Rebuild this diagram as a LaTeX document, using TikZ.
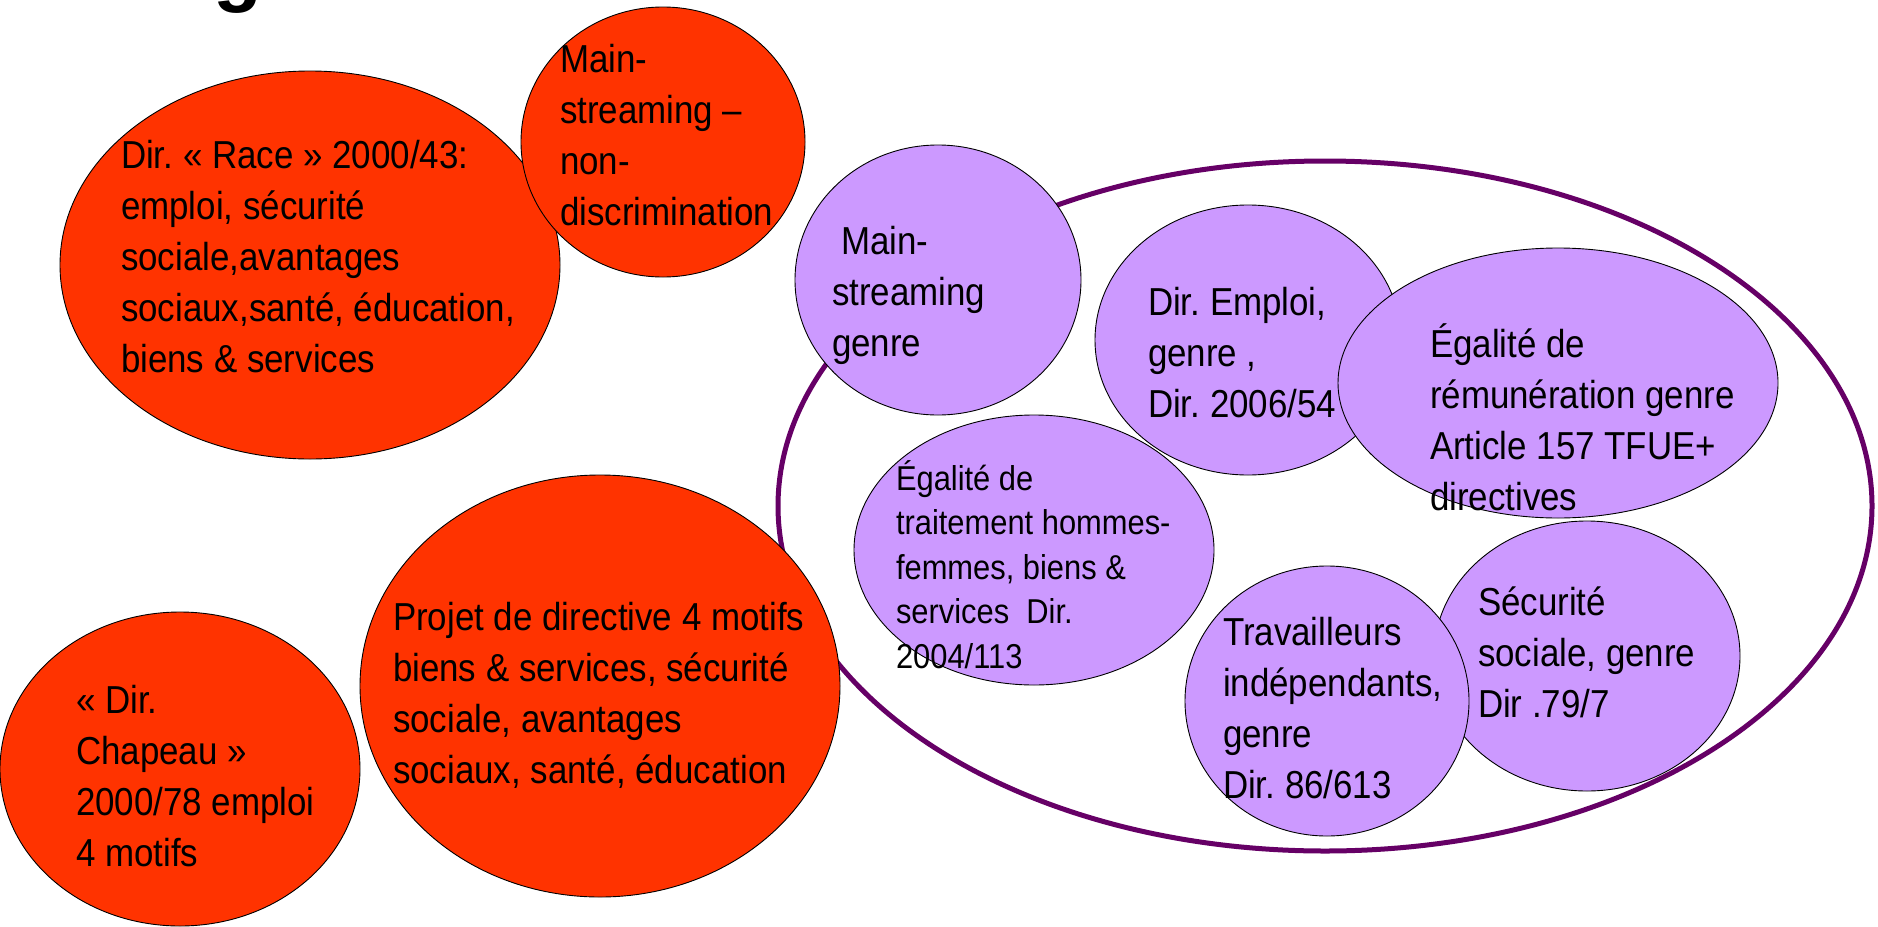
\documentclass[tikz,border=0pt]{standalone}
\usepackage{fontspec}
\setmainfont[FakeStretch=0.895]{Liberation Sans}
\newfontfamily\titlefont{Liberation Sans}
\usetikzlibrary{shapes.geometric}
\definecolor{myred}{HTML}{FF3300}
\definecolor{mylilac}{HTML}{CC99FF}
\definecolor{myplum}{HTML}{660066}
\frenchspacing
\newcommand\mylines[1]{\vtop{\let\\\cr\halign{##\hfil\cr#1\crcr}}}
\tikzset{
  blob/.style={ellipse, draw=black, line width=0.9pt, inner sep=0pt, outer sep=0pt},
  redblob/.style={blob, fill=myred},
  lilacblob/.style={blob, fill=mylilac},
  ring/.style={ellipse, draw=myplum, line width=5pt, inner sep=0pt},
  txt/.style={anchor=base west, inner sep=0pt, outer sep=0pt, text=black, font=\frenchspacing\fontsize{39}{51}\selectfont},
  smalltxt/.style={txt, font=\frenchspacing\fontsize{34.5}{44.5}\selectfont}
}
\begin{document}
\begin{tikzpicture}[x=1pt, y=-1pt]
\useasboundingbox (0,0) rectangle (1878,926);
% title fragment
\node[anchor=base west, inner sep=0pt, font=\titlefont\bfseries\fontsize{80}{90}\selectfont] (title) at (213,-3) {g};
% red ellipses
\node[redblob, minimum width=500pt, minimum height=388pt] (race) at (310,265) {};
\node[redblob, minimum width=284pt, minimum height=270pt] (nondisc) at (663,142) {};
% big ring
\node[ring, minimum width=1094pt, minimum height=690pt] (ring) at (1325,506) {};
% lilac ellipses
\node[lilacblob, minimum width=286pt, minimum height=270pt] (maingenre) at (938,280) {};
\node[lilacblob, minimum width=306pt, minimum height=270pt] (emploi) at (1248,340) {};
\node[lilacblob, minimum width=440pt, minimum height=270pt] (remun) at (1558,383) {};
\node[lilacblob, minimum width=360pt, minimum height=270pt] (traite) at (1034,550) {};
\node[lilacblob, minimum width=306pt, minimum height=270pt] (secu) at (1587,656) {};
\node[lilacblob, minimum width=284pt, minimum height=270pt] (trav) at (1327,701) {};
% lower red ellipses
\node[redblob, minimum width=360pt, minimum height=314pt] (chapeau) at (180,769) {};
\node[redblob, minimum width=480pt, minimum height=422pt] (projet) at (600,686) {};
% texts
\node[txt] (trace) at (121,168) {\mylines{Dir. « Race » 2000/43:\\emploi, sécurité\\sociale,avantages\\sociaux,santé, éducation,\\biens \& services}};
\node[txt] (tnondisc) at (560,72) {\mylines{Main-\\streaming –\\non-\\discrimination}};
\node[txt] (tmaingenre) at (832,254) {\mylines{\hspace*{9pt}Main-\\streaming\\genre}};
\node[txt] (temploi) at (1148,315) {\mylines{Dir. Emploi,\\genre ,\\Dir. 2006/54}};
\node[txt] (tremun) at (1430,357) {\mylines{Égalité de\\rémunération genre\\Article 157 TFUE+\\directives}};
\node[smalltxt] (ttraite) at (896,490) {\mylines{Égalité de\\traitement hommes-\\femmes, biens \&\\services\ \ Dir.\\2004/113}};
\node[txt] (ttrav) at (1223,645) {\mylines{Travailleurs\\indépendants,\\genre\\Dir. 86/613}};
\node[txt] (tsecu) at (1478,615) {\mylines{Sécurité\\sociale, genre\\Dir .79/7}};
\node[txt] (tchapeau) at (76,713) {\mylines{« Dir.\\Chapeau »\\2000/78 emploi\\4 motifs}};
\node[txt] (tprojet) at (393,630) {\mylines{Projet de directive 4 motifs\\biens \& services, sécurité\\sociale, avantages\\sociaux, santé, éducation}};
\end{tikzpicture}
\end{document}
